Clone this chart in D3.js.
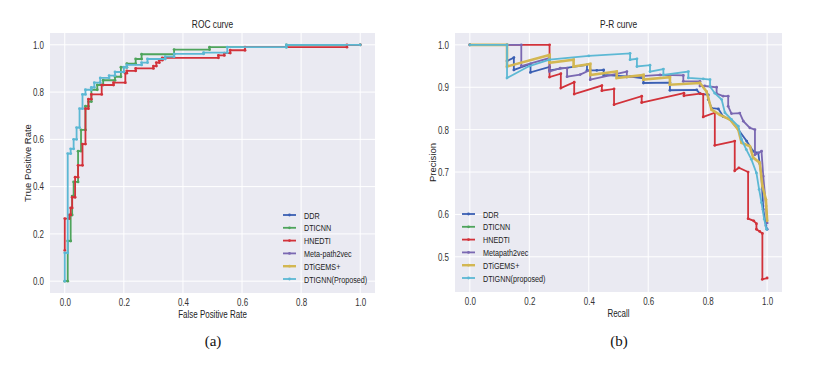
<!DOCTYPE html>
<html><head><meta charset="utf-8">
<script src="https://cdn.jsdelivr.net/npm/d3@7"></script>
<style>
html,body{margin:0;padding:0;background:#fff;}
svg text{font-family:"Liberation Sans",Arial,sans-serif;}
</style></head>
<body>
<svg id="chart" width="817" height="369"></svg>
<script>
// ---------------- data ----------------
const seriesNames = ["DDR","DTICNN","HNEDTI","Meta-path2vec","DTiGEMS+","DTIGNN(Proposed)"];
const prNames = ["DDR","DTICNN","HNEDTI","Metapath2vec","DTiGEMS+","DTIGNN(proposed)"];
const seriesColors = ["#3a5fb3","#4ea45c","#d2323a","#7a68b2","#d3b752","#5cb8d4"];

const xTicks = [0,0.2,0.4,0.6,0.8,1.0];
const rocYTicks = [0,0.2,0.4,0.6,0.8,1.0];
const prYTicks = [0.5,0.6,0.7,0.8,0.9,1.0];

// ROC curves: [fpr, tpr]
const rocDTICNN = [[0,0],[0.01,0],[0.01,0.17],[0.02,0.17],[0.02,0.28],[0.025,0.28],[0.025,0.36],[0.03,0.36],[0.03,0.42],[0.045,0.42],[0.045,0.55],[0.055,0.55],[0.055,0.64],[0.07,0.64],[0.07,0.74],[0.08,0.74],[0.08,0.76],[0.09,0.76],[0.09,0.81],[0.11,0.81],[0.11,0.83],[0.13,0.83],[0.13,0.85],[0.17,0.85],[0.17,0.865],[0.19,0.865],[0.19,0.905],[0.21,0.905],[0.21,0.92],[0.24,0.92],[0.24,0.94],[0.26,0.94],[0.26,0.96],[0.37,0.96],[0.37,0.98],[0.49,0.98],[0.49,0.99],[0.75,0.99],[0.75,1.0],[1.0,1.0]];
const rocHNEDTI = [[0,0.13],[0,0.265],[0.015,0.265],[0.015,0.28],[0.02,0.28],[0.02,0.31],[0.025,0.31],[0.025,0.355],[0.035,0.355],[0.035,0.44],[0.045,0.44],[0.045,0.49],[0.06,0.49],[0.06,0.58],[0.07,0.58],[0.07,0.73],[0.08,0.73],[0.08,0.77],[0.09,0.77],[0.09,0.79],[0.125,0.79],[0.125,0.83],[0.165,0.83],[0.165,0.84],[0.205,0.84],[0.205,0.88],[0.21,0.88],[0.21,0.89],[0.24,0.89],[0.24,0.90],[0.30,0.90],[0.30,0.91],[0.31,0.91],[0.31,0.925],[0.32,0.925],[0.32,0.935],[0.33,0.935],[0.33,0.945],[0.52,0.945],[0.52,0.955],[0.54,0.955],[0.54,0.965],[0.56,0.965],[0.56,0.977],[0.61,0.977],[0.61,0.99],[0.955,0.99],[0.955,1.0],[1.0,1.0]];
const rocDTIGNN = [[0,0],[0,0.12],[0.01,0.12],[0.01,0.54],[0.02,0.54],[0.02,0.56],[0.03,0.56],[0.03,0.60],[0.04,0.60],[0.04,0.65],[0.05,0.65],[0.05,0.73],[0.06,0.73],[0.06,0.79],[0.07,0.79],[0.07,0.81],[0.09,0.81],[0.09,0.82],[0.10,0.82],[0.10,0.84],[0.12,0.84],[0.12,0.86],[0.15,0.86],[0.15,0.87],[0.17,0.87],[0.17,0.885],[0.20,0.885],[0.20,0.905],[0.21,0.905],[0.21,0.915],[0.26,0.915],[0.26,0.925],[0.28,0.925],[0.28,0.94],[0.34,0.94],[0.34,0.95],[0.37,0.95],[0.37,0.962],[0.47,0.962],[0.47,0.967],[0.55,0.967],[0.55,0.99],[0.75,0.99],[0.75,1.0],[1.0,1.0]];

// P-R curves: [recall, precision]
const prDDR = [[0,1],[0.125,1],[0.125,0.962],[0.148,0.97],[0.148,0.941],[0.204,0.955],[0.204,0.935],[0.268,0.948],[0.268,0.94],[0.394,0.953],[0.394,0.94],[0.427,0.94],[0.45,0.941],[0.45,0.929],[0.539,0.925],[0.584,0.921],[0.584,0.91],[0.673,0.911],[0.673,0.893],[0.763,0.894],[0.774,0.885],[0.802,0.882],[0.802,0.871],[0.813,0.851],[0.836,0.849],[0.852,0.831],[0.875,0.824],[0.903,0.80],[0.931,0.773],[0.953,0.749],[0.97,0.745],[0.975,0.72],[0.981,0.69],[0.987,0.612],[0.996,0.573],[1.0,0.565]];
const prHNEDTI = [[0,1],[0.268,1],[0.268,0.924],[0.306,0.932],[0.306,0.898],[0.351,0.912],[0.351,0.884],[0.444,0.904],[0.444,0.892],[0.485,0.896],[0.485,0.859],[0.578,0.879],[0.578,0.864],[0.72,0.886],[0.72,0.88],[0.775,0.885],[0.785,0.883],[0.785,0.83],[0.824,0.84],[0.824,0.763],[0.891,0.773],[0.891,0.703],[0.905,0.71],[0.936,0.70],[0.936,0.59],[0.955,0.585],[0.964,0.578],[0.964,0.565],[0.975,0.56],[0.984,0.555],[0.984,0.447],[1.0,0.45]];
const prMetapath = [[0,1],[0.173,1],[0.173,0.95],[0.268,0.969],[0.268,0.937],[0.304,0.945],[0.327,0.945],[0.327,0.925],[0.371,0.93],[0.405,0.941],[0.405,0.918],[0.528,0.937],[0.528,0.924],[0.64,0.929],[0.718,0.928],[0.718,0.914],[0.774,0.914],[0.774,0.903],[0.79,0.903],[0.83,0.9],[0.83,0.885],[0.852,0.879],[0.869,0.879],[0.869,0.855],[0.88,0.838],[0.908,0.839],[0.92,0.82],[0.942,0.804],[0.959,0.80],[0.959,0.741],[0.981,0.749],[0.987,0.69],[0.996,0.62],[1.0,0.58]];
const prDTiGEMS = [[0,1],[0.125,1],[0.125,0.949],[0.268,0.976],[0.268,0.958],[0.349,0.965],[0.349,0.949],[0.405,0.955],[0.405,0.929],[0.494,0.937],[0.494,0.922],[0.584,0.929],[0.584,0.918],[0.673,0.924],[0.673,0.906],[0.774,0.91],[0.796,0.89],[0.813,0.847],[0.841,0.835],[0.875,0.824],[0.903,0.80],[0.914,0.769],[0.942,0.761],[0.953,0.734],[0.975,0.722],[0.984,0.667],[0.996,0.635],[1.0,0.585]];
const prDTIGNN = [[0,1],[0.125,1],[0.125,0.922],[0.2,0.95],[0.268,0.965],[0.4,0.974],[0.539,0.98],[0.539,0.965],[0.562,0.967],[0.562,0.949],[0.606,0.952],[0.606,0.937],[0.651,0.943],[0.651,0.929],[0.735,0.937],[0.735,0.922],[0.785,0.92],[0.808,0.918],[0.808,0.902],[0.824,0.886],[0.847,0.871],[0.858,0.84],[0.88,0.824],[0.903,0.808],[0.914,0.777],[0.93,0.753],[0.947,0.73],[0.964,0.698],[0.973,0.659],[0.981,0.628],[0.99,0.589],[0.998,0.565]];

const rocCurves = [{i:1,d:rocDTICNN},{i:2,d:rocHNEDTI},{i:5,d:rocDTIGNN}];
const prCurves = [{i:0,d:prDDR},{i:2,d:prHNEDTI},{i:3,d:prMetapath},{i:4,d:prDTiGEMS},{i:5,d:prDTIGNN}];

// ---------------- drawing ----------------
const svg = d3.select("#chart");
const fmt = d3.format(".1f");
const SQ = 0.76; // horizontal squeeze of the source image text

function squeeze(sel){
  sel.each(function(){
    const t = d3.select(this);
    const x = +t.attr("x") || 0, y = +t.attr("y") || 0;
    t.attr("x",0).attr("y",0).attr("transform",`translate(${x},${y}) scale(${SQ},1)`);
  });
}

function panel(opt){
  const x = d3.scaleLinear().domain(opt.xDom).range([opt.left, opt.right]);
  const y = d3.scaleLinear().domain(opt.yDom).range([opt.bottom, opt.top]);
  const g = svg.append("g");
  g.append("rect").attr("x",opt.left).attr("y",opt.top)
    .attr("width",opt.right-opt.left).attr("height",opt.bottom-opt.top).attr("fill","#eaeaf2");
  g.selectAll(".vg").data(xTicks).join("line")
    .attr("x1",d=>x(d)).attr("x2",d=>x(d)).attr("y1",opt.top).attr("y2",opt.bottom)
    .attr("stroke","#fff").attr("stroke-width",1);
  g.selectAll(".hg").data(opt.yTicks).join("line")
    .attr("y1",d=>y(d)).attr("y2",d=>y(d)).attr("x1",opt.left).attr("x2",opt.right)
    .attr("stroke","#fff").attr("stroke-width",1);
  const xa = g.append("g").attr("transform",`translate(0,${opt.bottom})`)
    .call(d3.axisBottom(x).tickValues(xTicks).tickFormat(fmt).tickSize(0).tickPadding(6));
  const ya = g.append("g").attr("transform",`translate(${opt.left},0)`)
    .call(d3.axisLeft(y).tickValues(opt.yTicks).tickFormat(fmt).tickSize(0).tickPadding(6));
  [xa,ya].forEach(a=>{
    a.select(".domain").remove();
    a.selectAll("text").attr("fill","#333").style("font-size","10.5px");
  });
  ya.selectAll("text").attr("x",-6);
  squeeze(xa.selectAll("text"));
  squeeze(ya.selectAll("text"));
  const cx = (opt.left+opt.right)/2;
  squeeze(g.append("text").attr("x",cx).attr("y",opt.top-5).attr("text-anchor","middle")
    .attr("fill","#222").style("font-size","11px").text(opt.title));
  squeeze(g.append("text").attr("x",cx).attr("y",opt.bottom+25).attr("text-anchor","middle")
    .attr("fill","#222").style("font-size","10.5px").text(opt.xLabel));
  g.append("text").attr("transform",`translate(${opt.yLabelX},${(opt.top+opt.bottom)/2}) rotate(-90)`)
    .attr("text-anchor","middle").attr("fill","#222").style("font-size","9.5px").text(opt.yLabel);
  const clipId = "clip"+opt.id;
  svg.append("clipPath").attr("id",clipId).append("rect")
    .attr("x",opt.left).attr("y",opt.top).attr("width",opt.right-opt.left).attr("height",opt.bottom-opt.top);
  const cg = g.append("g").attr("clip-path",`url(#${clipId})`);
  const line = d3.line().x(d=>x(d[0])).y(d=>y(d[1]));
  opt.curves.forEach(c=>{
    const col = seriesColors[c.i];
    const w = c.i===4 ? 2.6 : 1.8;
    cg.append("path").datum(c.d).attr("d",line).attr("fill","none")
      .attr("stroke",col).attr("stroke-width",w).attr("stroke-linejoin","miter");
    cg.selectAll(null).data(c.d).join("circle")
      .attr("cx",d=>x(d[0])).attr("cy",d=>y(d[1])).attr("r",1.4).attr("fill",col);
  });
  const lg = g.append("g");
  opt.names.forEach((n,k)=>{
    const yy = opt.legY + k*12.8;
    lg.append("line").attr("x1",opt.legX).attr("x2",opt.legX+13).attr("y1",yy).attr("y2",yy)
      .attr("stroke",seriesColors[k]).attr("stroke-width",k===4?2.4:1.8);
    lg.append("circle").attr("cx",opt.legX+6.5).attr("cy",yy).attr("r",1.4).attr("fill",seriesColors[k]);
    squeeze(lg.append("text").attr("x",opt.legX+21).attr("y",yy+3.5).attr("fill","#222")
      .style("font-size","9.5px").text(n));
  });
  svg.append("text").attr("x",opt.capX).attr("y",346).attr("text-anchor","middle")
    .style("font-family","'Liberation Serif','Times New Roman',serif").style("font-size","15px")
    .attr("fill","#111").text(opt.caption);
}

panel({id:"a", left:50, right:375, top:33, bottom:293, xDom:[-0.05,1.05], yDom:[-0.05,1.05],
  yTicks:rocYTicks, title:"ROC curve", xLabel:"False Positive Rate", yLabel:"True Positive Rate",
  yLabelX:31, curves:rocCurves, names:seriesNames, legX:283, legY:215, capX:213, caption:"(a)"});

panel({id:"b", left:455, right:782, top:33, bottom:292, xDom:[-0.05,1.05], yDom:[0.417,1.028],
  yTicks:prYTicks, title:"P-R curve", xLabel:"Recall", yLabel:"Precision",
  yLabelX:436, curves:prCurves, names:prNames, legX:462, legY:214, capX:619, caption:"(b)"});
</script>
</body></html>
